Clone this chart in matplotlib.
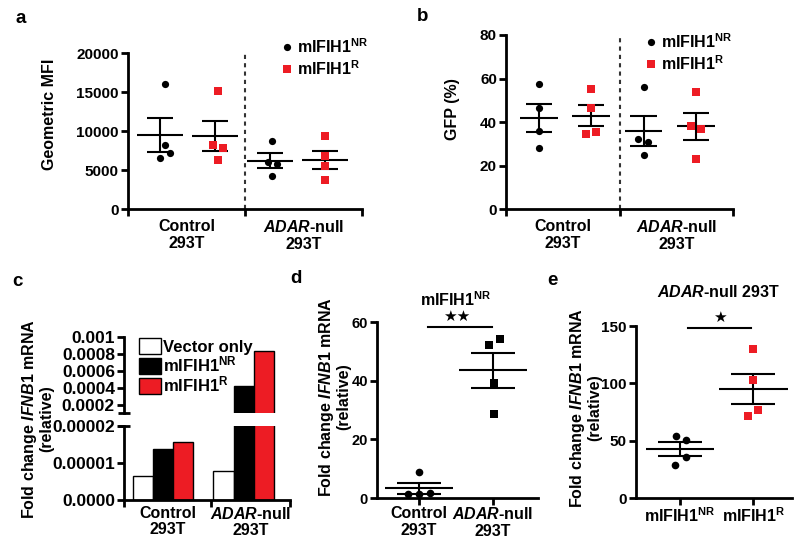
import numpy as np
import matplotlib.pyplot as plt
from matplotlib.lines import Line2D

plt.rcParams['font.family'] = ['Liberation Sans', 'DejaVu Sans']
plt.rcParams['font.weight'] = 'bold'
plt.rcParams['mathtext.fontset'] = 'custom'
plt.rcParams['mathtext.rm'] = 'Liberation Sans:bold'
plt.rcParams['mathtext.it'] = 'Liberation Sans:italic:bold'
plt.rcParams['mathtext.bf'] = 'Liberation Sans:bold'

RED = '#ED1C24'
NR = 'mIFIH1$^{\\mathrm{NR}}$'
R = 'mIFIH1$^{\\mathrm{R}}$'

# ---- data ----
group_labels = ['Control\n293T', '$\\mathit{ADAR}$-null\n293T']

# a: geometric MFI
mfi_nr_ctrl = [16000, 8200, 7200, 6500]
mfi_r_ctrl = [15100, 8250, 7800, 6250]
mfi_nr_adar = [8760, 5980, 5770, 4190]
mfi_r_adar = [9320, 6750, 5470, 3760]

# b: GFP (%)
gfp_nr_ctrl = [57.5, 46.6, 35.9, 28.0]
gfp_r_ctrl = [55.0, 46.3, 35.6, 34.6]
gfp_nr_adar = [56.0, 32.3, 30.7, 24.9]
gfp_r_adar = [54.0, 38.2, 36.7, 23.1]

# c: IFNB1 fold change (Control, ADAR-null)
c_series = ['Vector only', NR, R]
ifnb_vector = [0.0000065, 0.0000078]
ifnb_nr = [0.0000139, 0.00042]
ifnb_r = [0.0000157, 0.00084]
c_top_ticks = [0.0002, 0.0004, 0.0006, 0.0008, 0.001]
c_top_labels = ['0.0002', '0.0004', '0.0006', '0.0008', '0.001']
c_bot_ticks = [0, 0.00001, 0.00002]
c_bot_labels = ['0.0000', '0.00001', '0.00002']

# d: mIFIH1 NR
d_ctrl = [8.9, 1.5, 1.2, 1.7]
d_adar = [52.0, 54.3, 39.2, 28.8]

# e: ADAR-null 293T
e_nr = [54.1, 50.9, 35.8, 28.5]
e_r = [129.7, 102.6, 76.5, 71.5]

# horizontal scatter of points within a column (layout only)
jit_a = [[0.09, 0.09, 0.18, 0.0], [0.05, -0.04, 0.15, 0.05],
         [0.04, -0.04, 0.13, 0.04], [0, 0, 0, 0]]
jit_b = [[0, 0, 0, 0], [0, 0, 0.1, -0.1], [0, -0.1, 0.09, 0], [0, -0.1, 0.1, 0]]
jit_d = [[0, -0.15, 0, 0.145], [-0.05, 0.09, 0.02, 0.02]]
jit_e = [[-0.06, 0.08, 0.08, -0.07], [0, 0, 0.07, -0.07]]

W, H = 800, 547
fig = plt.figure(figsize=(W / 100, H / 100), dpi=100)


def rect(x0, x1, y0, y1):
    return [x0 / W, 1 - y1 / H, (x1 - x0) / W, (y1 - y0) / H]


def style(ax, fs=11):
    for s in ['top', 'right']:
        ax.spines[s].set_visible(False)
    for s in ['left', 'bottom']:
        ax.spines[s].set_linewidth(2)
    ax.tick_params(axis='both', which='major', width=2, length=5, labelsize=fs)
    ax.tick_params(axis='y', pad=1.5)
    ax.tick_params(axis='x', which='minor', length=0, labelsize=11.5, pad=7)


def mean_sem(ax, x, vals, half_mean, half_cap):
    vals = np.asarray(vals)
    m = vals.mean()
    sem = vals.std(ddof=1) / np.sqrt(len(vals))
    ax.hlines(m, x - half_mean, x + half_mean, color='black', lw=1.5, zorder=4)
    ax.vlines(x, m - sem, m + sem, color='black', lw=1.5, zorder=4)
    ax.hlines([m - sem, m + sem], x - half_cap, x + half_cap, color='black', lw=1.5, zorder=4)


def scatter_panel(ax, cols, jits, half_mean, half_cap, ms=5.2):
    for i, (vals, jit) in enumerate(zip(cols, jits)):
        is_r = i % 2 == 1
        ax.plot(i + np.asarray(jit), vals, 's' if is_r else 'o',
                color=RED if is_r else 'black', ms=ms, mew=0, zorder=5, clip_on=False)
        mean_sem(ax, i, vals, half_mean, half_cap)


def group_xaxis(ax, left, mid, right, labels, fs=11.5):
    ax.set_xlim(left, right)
    ax.set_xticks([left, mid, right])
    ax.set_xticklabels([])
    ax.set_xticks([(left + mid) / 2, (mid + right) / 2], minor=True)
    ax.set_xticklabels(labels, minor=True, fontsize=fs, linespacing=1.15)
    ax.axvline(mid, color='#333333', lw=1.5, ls=(0, (2, 2)), zorder=1)


def legend_ab(ax, anchor):
    handles = [Line2D([], [], marker='o', ls='', color='black', ms=5.2, mew=0),
               Line2D([], [], marker='s', ls='', color=RED, ms=5.2, mew=0)]
    ax.legend(handles, [NR, R], loc='upper left', bbox_to_anchor=anchor,
              bbox_transform=fig.transFigure, frameon=False, fontsize=11.5,
              handlelength=0.6, handletextpad=0.35, labelspacing=0.22, borderpad=0,
              borderaxespad=0)


# ---- panel a ----
ax = fig.add_axes(rect(128, 362, 53, 209))
style(ax)
scatter_panel(ax, [mfi_nr_ctrl, mfi_r_ctrl, mfi_nr_adar, mfi_r_adar], jit_a, 0.42, 0.24)
ax.set_ylim(0, 20000)
ax.set_yticks([0, 5000, 10000, 15000, 20000])
group_xaxis(ax, -0.58, 1.55, 3.67, group_labels)
legend_ab(ax, (282 / W, 1 - 37 / H))
fig.text(50 / W, 1 - 114 / H, 'Geometric MFI', rotation=90, ha='center', va='center',
         fontsize=11.5)

# ---- panel b ----
ax = fig.add_axes(rect(506, 733, 35, 209))
style(ax)
scatter_panel(ax, [gfp_nr_ctrl, gfp_r_ctrl, gfp_nr_adar, gfp_r_adar], jit_b, 0.36, 0.25)
ax.set_ylim(0, 80)
ax.set_yticks([0, 20, 40, 60, 80])
group_xaxis(ax, -0.63, 1.55, 3.71, group_labels)
legend_ab(ax, (646 / W, 1 - 32 / H))
fig.text(453 / W, 1 - 109 / H, 'GFP (%)', rotation=90, ha='center', va='center',
         fontsize=11.5)

# ---- panel c (broken axis) ----
xg = np.arange(2)
bw = 0.25
axt = fig.add_axes(rect(124, 290, 337, 413))
axb = fig.add_axes(rect(124, 290, 426, 500))
for a_ in (axt, axb):
    style(a_, fs=12.5)
    a_.bar(xg - bw, ifnb_vector, bw, color='white', edgecolor='black', lw=1)
    a_.bar(xg, ifnb_nr, bw, color='black', edgecolor='black', lw=1)
    a_.bar(xg + bw, ifnb_r, bw, color=RED, edgecolor='black', lw=1)
    a_.set_xlim(-0.48, 1.57)
axt.set_ylim(0.0001, 0.001)
axt.spines['bottom'].set_visible(False)
axt.set_xticks([])
axt.set_yticks(c_top_ticks)
axt.set_yticklabels(c_top_labels)
axt.plot([0], [0], marker='_', ms=8, mew=2, color='black', transform=axt.transAxes,
         clip_on=False)
axb.set_ylim(0, 0.00002)
axb.set_yticks(c_bot_ticks)
axb.set_yticklabels(c_bot_labels)
axb.plot([0], [1], marker='_', ms=8, mew=2, color='black', transform=axb.transAxes,
         clip_on=False)
axb.set_xticks([-0.48, 0.6, 1.57])
axb.set_xticklabels([])
axb.set_xticks([0.06, 1.085], minor=True)
axb.set_xticklabels(group_labels, minor=True, fontsize=11.5, linespacing=1.15)
axb.tick_params(axis='x', which='minor', pad=4)
axt.legend(axt.containers, c_series, loc='upper left',
           bbox_to_anchor=(139 / W, 1 - 338 / H), bbox_transform=fig.transFigure,
           frameon=False, fontsize=12, handlelength=1.3, handleheight=1.1,
           handletextpad=0.15, labelspacing=0.0, borderpad=0, borderaxespad=0)
fig.text(37 / W, 1 - 419 / H, 'Fold change $\\mathit{IFNB1}$ mRNA\n(relative)',
         rotation=90, ha='center', va='center', fontsize=11.5, linespacing=1.05,
         multialignment='center')

# ---- panel d ----
ax = fig.add_axes(rect(377, 538, 322, 498))
style(ax, fs=10.5)
for i, (vals, jit) in enumerate(zip([d_ctrl, d_adar], jit_d)):
    ax.plot(i + np.asarray(jit), vals, 'o' if i == 0 else 's', color='black', ms=5.5,
            mew=0, zorder=5, clip_on=False)
    mean_sem(ax, i, vals, 0.46, 0.3)
ax.set_xlim(-0.57, 1.61)
ax.set_ylim(0, 60)
ax.set_yticks([0, 20, 40, 60])
ax.set_xticks([0, 1])
ax.set_xticklabels(group_labels, fontsize=11.5, linespacing=1.15)
ax.tick_params(axis='x', length=5, pad=1)
ax.plot([0.12, 0.99], [58.3, 58.3], color='black', lw=1.5, clip_on=False)
ax.text(0.51, 59.2, '★★', ha='center', va='bottom', fontsize=11,
        family=['DejaVu Sans'])
fig.text(456 / W, 1 - 300 / H, NR, ha='center', va='center', fontsize=11.5)
fig.text(334 / W, 1 - 397 / H, 'Fold change $\\mathit{IFNB1}$ mRNA\n(relative)',
         rotation=90, ha='center', va='center', fontsize=11.5, linespacing=1.05,
         multialignment='center')

# ---- panel e ----
ax = fig.add_axes(rect(636, 792, 326, 498))
style(ax, fs=11)
for i, (vals, jit) in enumerate(zip([e_nr, e_r], jit_e)):
    ax.plot(i + np.asarray(jit), vals, 'o' if i == 0 else 's',
            color='black' if i == 0 else RED, ms=5.5, mew=0, zorder=5, clip_on=False)
    mean_sem(ax, i, vals, 0.47, 0.3)
ax.set_xlim(-0.6, 1.53)
ax.set_ylim(0, 150)
ax.set_yticks([0, 50, 100, 150])
ax.set_xticks([0, 1])
ax.set_xticklabels([NR, R], fontsize=11.5)
ax.tick_params(axis='x', length=5, pad=1)
ax.plot([0.11, 0.97], [148.3, 148.3], color='black', lw=1.5, clip_on=False)
ax.text(0.55, 150.5, '★', ha='center', va='bottom', fontsize=11,
        family=['DejaVu Sans'])
fig.text(718 / W, 1 - 292 / H, '$\\mathit{ADAR}$-null 293T', ha='center', va='center',
         fontsize=11.5)
fig.text(585 / W, 1 - 408 / H, 'Fold change $\\mathit{IFNB1}$ mRNA\n(relative)',
         rotation=90, ha='center', va='center', fontsize=11.5, linespacing=1.05,
         multialignment='center')

# panel letters
for lab, x, y in [('a', 16, 23), ('b', 417, 21), ('c', 12, 286), ('d', 290, 283),
                  ('e', 547, 285)]:
    fig.text(x / W, 1 - y / H, lab, fontsize=13.5, ha='left', va='baseline')

fig.savefig('out.png', dpi=100)
